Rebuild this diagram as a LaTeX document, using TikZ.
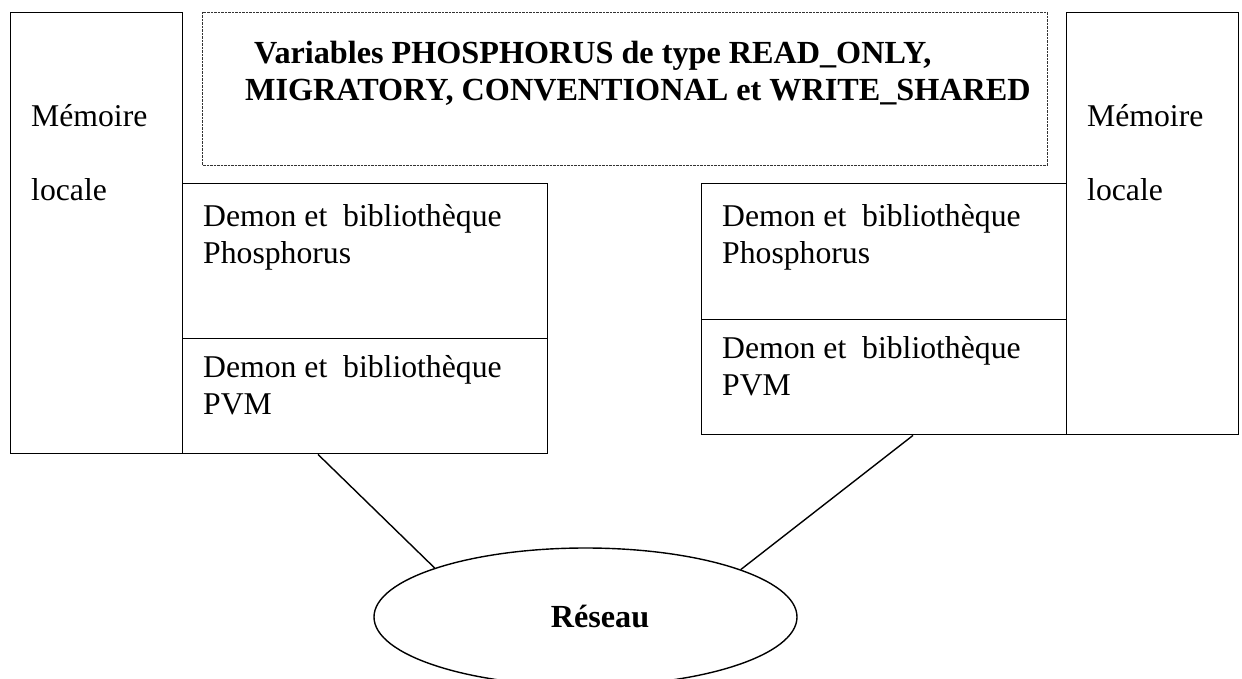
\documentclass[tikz,border=0pt]{standalone}
\usepackage{fontspec}
\setmainfont{Liberation Serif}
\usetikzlibrary{shapes.geometric,calc}
\begin{document}
\begin{tikzpicture}[x=1pt,y=-1pt,
  frame/.style={draw,line width=1.4pt,rectangle,inner sep=0pt,anchor=north west},
  dotframe/.style={draw=black!80,line width=1pt,dash pattern=on 0.7pt off 0.7pt,rectangle,inner sep=0pt,anchor=north west},
  txt/.style={anchor=base west,inner sep=0pt,font=\fontsize{31.7}{37}\selectfont},
  boldtxt/.style={anchor=base west,inner sep=0pt,font=\fontsize{32.2}{37}\selectfont\bfseries},
  link/.style={line width=1.4pt}]
  \useasboundingbox (0,0) rectangle (1242,679);

  % local memories
  \node[frame,minimum width=172pt,minimum height=441pt] (memL) at (10,12) {};
  \node[frame,minimum width=172pt,minimum height=422pt] (memR) at (1066,12) {};

  % shared variables
  \node[dotframe,minimum width=845pt,minimum height=153pt] (vars) at (202,12) {};
  \node[boldtxt] (varsA) at (254,64) {Variables PHOSPHORUS de type READ\_ONLY,};
  \node[boldtxt] (varsB) at (245,101) {MIGRATORY, CONVENTIONAL et WRITE\_SHARED};

  % left machine layers
  \node[frame,minimum width=365pt,minimum height=155pt] (phL) at (182,183) {};
  \node[frame,minimum width=365pt,minimum height=115pt] (pvmL) at (182,338) {};
  % right machine layers
  \node[frame,minimum width=365pt,minimum height=136pt] (phR) at (701,183) {};
  \node[frame,minimum width=365pt,minimum height=115pt] (pvmR) at (701,319) {};

  % memory labels
  \node[txt] (memLa) at (31,127) {Mémoire};
  \node[txt] (memLb) at (31,201) {locale};
  \node[txt] (memRa) at (1087,127) {Mémoire};
  \node[txt] (memRb) at (1087,201) {locale};

  % layer labels
  \node[txt] (phLa) at (203,226) {Demon et\ \ bibliothèque};
  \node[txt] (phLb) at (203,263) {Phosphorus};
  \node[txt] (pvmLa) at (203,377) {Demon et\ \ bibliothèque};
  \node[txt] (pvmLb) at (203,414) {PVM};
  \node[txt] (phRa) at (722,226) {Demon et\ \ bibliothèque};
  \node[txt] (phRb) at (722,263) {Phosphorus};
  \node[txt] (pvmRa) at (722,358) {Demon et\ \ bibliothèque};
  \node[txt] (pvmRb) at (722,395) {PVM};

  % network
  \node[draw,ellipse,line width=1.4pt,inner sep=0pt,minimum width=423pt,minimum height=138pt] (net) at (585.5,617) {};
  \node[boldtxt,anchor=base] (netlab) at (600,627) {Réseau};

  % connections
  \draw[link] ($(pvmL.south west)+(136,0)$) -- (net.162.5);
  \draw[link] ($(pvmR.south west)+(212,0)$) -- (net.17.4);
\end{tikzpicture}
\end{document}
